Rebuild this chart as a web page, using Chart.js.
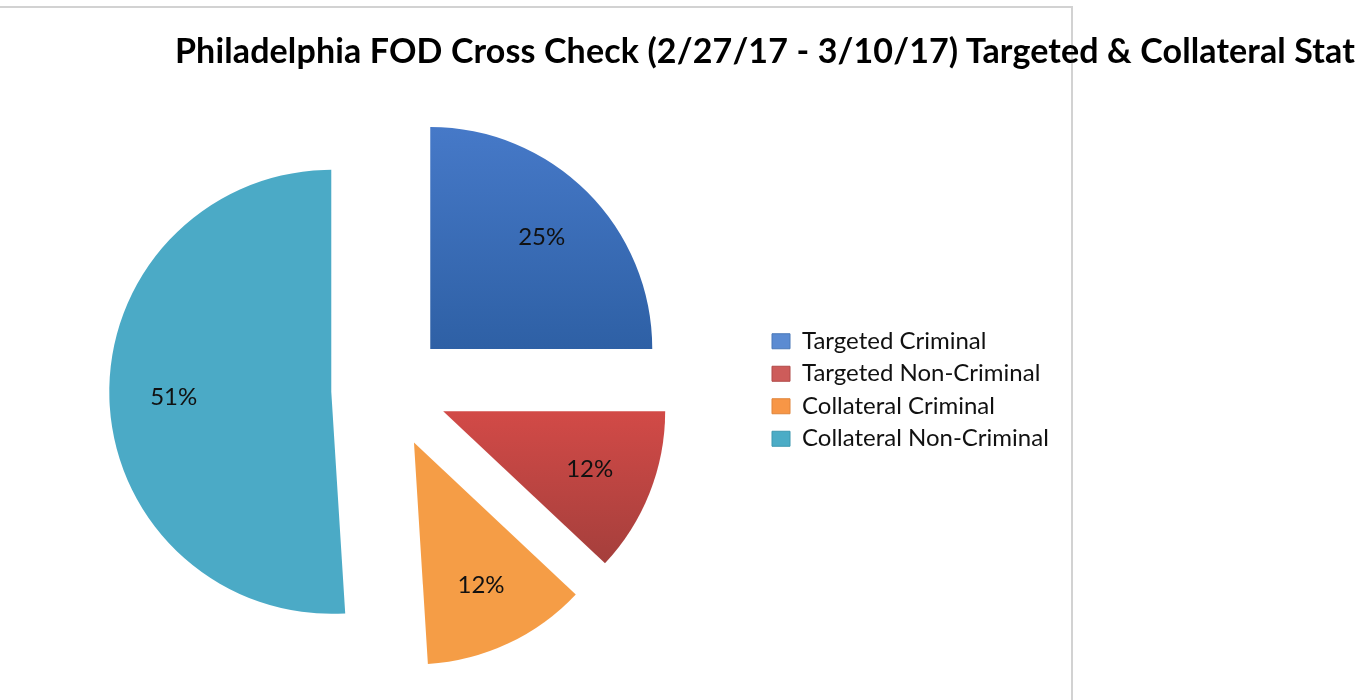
<!DOCTYPE html>
<html>
<head>
<meta charset="utf-8">
<script src="https://cdn.jsdelivr.net/npm/chart.js@4.4.1/dist/chart.umd.min.js"></script>
<style>
  html, body { margin: 0; padding: 0; background: #fff; overflow: hidden; }
  #wrap { position: relative; width: 1357px; height: 700px; }
  canvas { position: absolute; left: 0; top: 0; }
  #frame { position: absolute; left: -2px; top: 6px; width: 1073px; height: 700px;
           border-top: 2px solid #d2d2d2; border-right: 2px solid #d2d2d2; pointer-events: none; }
  #chartTitle { position: absolute; left: 175px; top: 33px; margin: 0; color: #000;
                font: 700 34px Lato, sans-serif; line-height: 1; white-space: nowrap; letter-spacing: 0.13px; }
</style>
</head>
<body>
<div id="wrap">
  <canvas id="pieChart" width="1357" height="700"></canvas>
  <div id="frame"></div>
  <h1 id="chartTitle">Philadelphia FOD Cross Check (2/27/17 - 3/10/17) Targeted &amp; Collateral Stat</h1>
</div>
<script>
const categories = ['Targeted Criminal', 'Targeted Non-Criminal', 'Collateral Criminal', 'Collateral Non-Criminal'];
const shares = [25, 12, 12, 51];

// gradient stops per slice (offset inside the pie's height, colour)
const sliceStops = [
    [[0, '#4679c8'], [0.5, '#2e60a5']],
    [[0.5, '#d24a47'], [0.84, '#a53f3c']],
    [[0, '#f59d46'], [1, '#f59d46']],
    [[0, '#4baac6'], [1, '#4baac6']]
];
const legendColors = ['#5b8bd2', '#cd5c5a', '#f79646', '#4bacc6'];
const legendBorders = ['#4a78b8', '#b04a48', '#e0843a', '#3d98b0'];

const sliceRadius = 222;
const explode = 58;
const legendLeft = 763.5;
const legendFontSize = 24;
const boxW = 18;
const boxH = 15;
const labelPad = 8.5;

// legend width as Chart.js computes it, so the right padding puts the legend where it belongs
function legendWidth() {
    const ctx = document.createElement('canvas').getContext('2d');
    ctx.font = legendFontSize + 'px Lato';
    const textW = Math.max(...categories.map(c => ctx.measureText(c).width));
    return labelPad + boxW + legendFontSize / 2 + textW + 10;
}

const explodedPie = {
    id: 'explodedPie',
    beforeDatasetsDraw(chart) {
        const ctx = chart.ctx;
        const meta = chart.getDatasetMeta(0);
        const total = shares.reduce((a, b) => a + b, 0);
        meta.data.forEach((arc, i) => {
            const mid = (arc.startAngle + arc.endAngle) / 2;
            ctx.save();
            ctx.translate(Math.cos(mid) * explode, Math.sin(mid) * explode);
            arc.draw(ctx);
            ctx.restore();

            const r = explode + arc.outerRadius * 0.71;
            ctx.save();
            ctx.font = '24px Lato';
            ctx.fillStyle = '#111';
            ctx.textAlign = 'center';
            ctx.textBaseline = 'middle';
            ctx.fillText(Math.round(shares[i] / total * 100) + '%', arc.x + Math.cos(mid) * r, arc.y + Math.sin(mid) * r);
            ctx.restore();
        });
        return false;
    }
};

new Chart(document.getElementById('pieChart'), {
    type: 'pie',
    data: {
        labels: categories,
        datasets: [{
            data: shares,
            radius: sliceRadius,
            borderWidth: 0,
            backgroundColor(context) {
                const {chart, dataIndex} = context;
                const area = chart.chartArea;
                if (!area) return sliceStops[dataIndex][0][1];
                const cy = (area.top + area.bottom) / 2;
                const g = chart.ctx.createLinearGradient(0, cy - sliceRadius, 0, cy + sliceRadius);
                sliceStops[dataIndex].forEach(([t, c]) => g.addColorStop(t, c));
                return g;
            }
        }]
    },
    options: {
        responsive: false,
        animation: false,
        events: [],
        layout: {
            padding: { left: 15, top: 80, bottom: 0, right: 1357 - legendLeft - legendWidth() }
        },
        plugins: {
            title: { display: false },
            tooltip: { enabled: false },
            legend: {
                position: 'right',
                labels: {
                    boxWidth: boxW,
                    boxHeight: boxH,
                    padding: labelPad,
                    color: '#111',
                    font: { family: 'Lato', size: legendFontSize },
                    generateLabels: () => categories.map((text, i) => ({
                        text: text,
                        fillStyle: legendColors[i],
                        strokeStyle: legendBorders[i],
                        lineWidth: 1,
                        fontColor: '#111',
                        hidden: false,
                        index: i
                    }))
                }
            }
        }
    },
    plugins: [explodedPie]
});
</script>
</body>
</html>
